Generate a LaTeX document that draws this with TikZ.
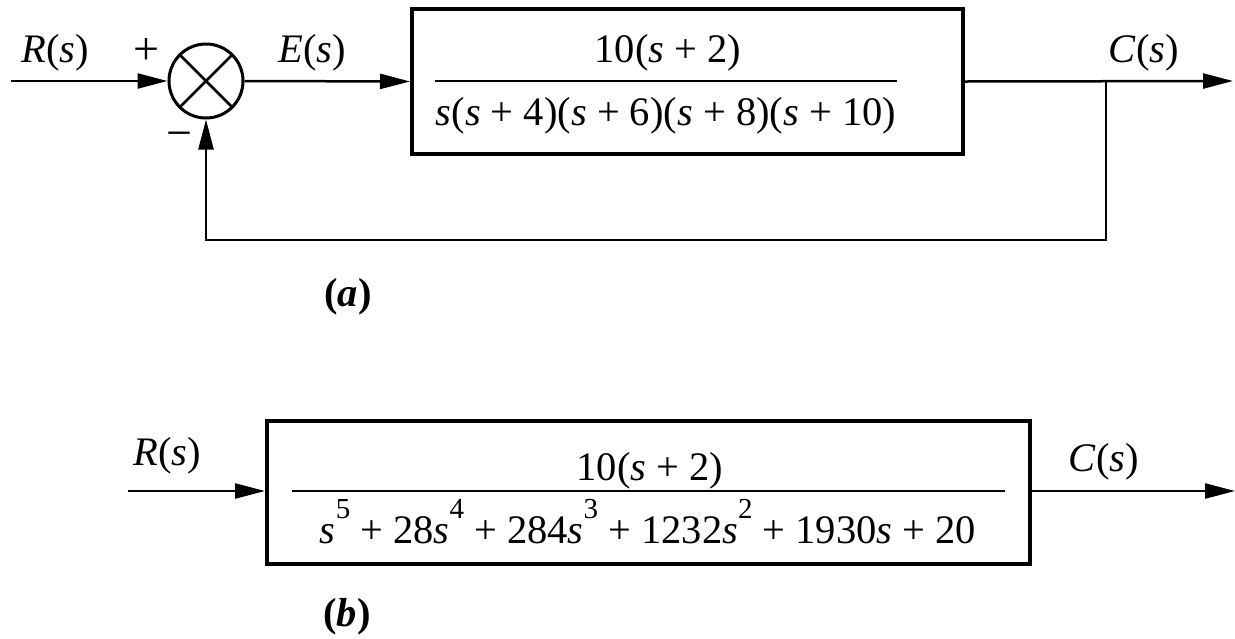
\documentclass[tikz,border=0pt]{standalone}
\usepackage{fontspec}
\setmainfont{Liberation Serif}
\usetikzlibrary{arrows.meta}
\newcommand\sv{\textit{s}}
\newcommand\supx[1]{\raisebox{0.6em}{\fontsize{29}{30}\selectfont #1}}
\begin{document}
\begin{tikzpicture}[x=1pt,y=-1pt,
  conn/.style={line width=2.5pt},
  arr/.style={conn,-{Triangle[length=30pt,width=15pt]}},
  blk/.style={draw,line width=4pt,inner sep=0pt},
  lbl/.style={inner sep=0pt,anchor=base,font=\fontsize{40.5}{46}\selectfont},
  sgn/.style={inner sep=0pt,anchor=center,font=\fontsize{46}{50}\selectfont},
  bar/.style={line width=2.5pt},
]
\useasboundingbox (0,0) rectangle (1235,638);
% ---------- (a) ----------
\node[circle,draw,line width=3pt,minimum size=74pt,inner sep=0pt] (sum) at (206,81) {};
\draw[line width=2.5pt] (sum.north west) -- (sum.south east);
\draw[line width=2.5pt] (sum.north east) -- (sum.south west);
\node[blk,minimum width=551pt,minimum height=145pt] (g1) at (687.5,81.5) {};
\coordinate (in1) at (11,81);
\coordinate (out1) at (1233,81);
\coordinate (br) at (1106,81);
\coordinate (fb) at (1106,240);
\draw[arr] (in1) -- (sum.west);
\draw[arr] (sum.east) -- (g1.west);
\draw[arr] (g1.east) -- (out1);
\draw[arr] (br) -- (fb) -| (sum.south);
\node[lbl] (r1) at (55,62) {\textit{R}(\sv)};
\node[sgn] (plus) at (146,52) {+};
\node[sgn] (minus) at (179,140) {−};
\node[lbl] (e1) at (312,62) {\textit{E}(\sv)};
\node[lbl] (c1) at (1144,62) {\textit{C}(\sv)};
\node[lbl] (n1) at (668,62) {10(\sv{} + 2)};
\node[lbl] (d1) at (666,125) {\sv(\sv{} + 4)(\sv{} + 6)(\sv{} + 8)(\sv{} + 10)};
\coordinate (b1l) at (435,81);
\coordinate (b1r) at (897,81);
\draw[bar] (b1l) -- (b1r);
\node[lbl] (capa) at (348,306) {\textbf{(\textit{a})}};
% ---------- (b) ----------
\node[blk,minimum width=763pt,minimum height=143pt] (g2) at (648.5,492.5) {};
\coordinate (in2) at (128,491);
\coordinate (out2) at (1235,491);
\draw[arr] (in2) -- (g2.west |- in2);
\draw[arr] (g2.east |- out2) -- (out2);
\node[lbl] (r2) at (167,465) {\textit{R}(\sv)};
\node[lbl] (c2) at (1104,471) {\textit{C}(\sv)};
\node[lbl] (n2) at (650,480) {10(\sv{} + 2)};
\node[lbl] (d2) at (648,543) {\sv\supx{5} + 28\sv\supx{4} + 284\sv\supx{3} + 1232\sv\supx{2} + 1930\sv{} + 20};
\coordinate (b2l) at (292,491);
\coordinate (b2r) at (1005,491);
\draw[bar] (b2l) -- (b2r);
\node[lbl] (capb) at (347,626) {\textbf{(\textit{b})}};
\end{tikzpicture}
\end{document}
